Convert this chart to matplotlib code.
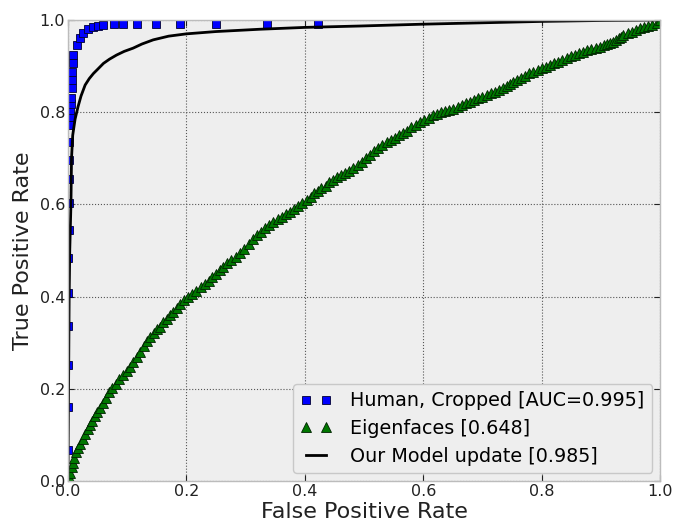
import matplotlib
matplotlib.use("Agg")
import matplotlib.pyplot as plt

# Human, Cropped
human_fpr = [0.000, 0.000, 0.000, 0.000, 0.000, 0.000, 0.001, 0.001, 0.001, 0.002,
             0.002, 0.003, 0.004, 0.004, 0.005, 0.005, 0.006, 0.006, 0.007, 0.008,
             0.009, 0.015, 0.020, 0.026, 0.034, 0.043, 0.050, 0.060, 0.077, 0.093,
             0.116, 0.149, 0.190, 0.250, 0.336, 0.423]
human_tpr = [0.067, 0.161, 0.252, 0.336, 0.407, 0.483, 0.544, 0.602, 0.655, 0.696,
             0.736, 0.772, 0.790, 0.805, 0.818, 0.830, 0.852, 0.870, 0.888, 0.906,
             0.925, 0.945, 0.960, 0.972, 0.980, 0.985, 0.988, 0.990, 0.991, 0.991,
             0.991, 0.991, 0.991, 0.991, 0.991, 0.991]

# Eigenfaces
eigen_fpr = [0.000, 0.002, 0.004, 0.006, 0.009, 0.011, 0.014, 0.017, 0.021, 0.025,
             0.029, 0.033, 0.037, 0.041, 0.045, 0.049, 0.054, 0.060,
             0.065, 0.070, 0.075, 0.081, 0.087, 0.093, 0.099, 0.105, 0.110, 0.116,
             0.122, 0.128, 0.134, 0.139, 0.145, 0.150, 0.155,
             0.161, 0.167, 0.172, 0.178, 0.184, 0.190, 0.196, 0.203, 0.210, 0.217,
             0.224, 0.231, 0.238, 0.244, 0.250, 0.256, 0.262, 0.269, 0.276, 0.284,
             0.291, 0.298, 0.305, 0.312, 0.319, 0.326, 0.333, 0.340, 0.347, 0.354,
             0.361, 0.368, 0.375, 0.382, 0.389, 0.396, 0.403,
             0.410, 0.416, 0.422, 0.428, 0.435, 0.441, 0.448, 0.454, 0.461, 0.468,
             0.475, 0.482, 0.489, 0.496, 0.503, 0.510, 0.517, 0.524, 0.531, 0.538,
             0.545, 0.552, 0.559, 0.566, 0.573, 0.580, 0.588, 0.595, 0.602, 0.609,
             0.616, 0.623, 0.630, 0.637, 0.644, 0.651,
             0.658, 0.665, 0.672, 0.679, 0.686, 0.693, 0.700, 0.707, 0.714, 0.721,
             0.728, 0.735, 0.741, 0.747, 0.752, 0.758, 0.765, 0.772, 0.779, 0.786,
             0.793, 0.800, 0.807, 0.814, 0.821, 0.828, 0.835, 0.842, 0.849, 0.856,
             0.863, 0.870, 0.877, 0.884, 0.891, 0.899, 0.905, 0.910, 0.916, 0.921,
             0.926, 0.930, 0.934, 0.938, 0.945, 0.952, 0.959, 0.966, 0.973, 0.980,
             0.987, 0.994, 1.000]
eigen_tpr = [0.000, 0.008, 0.018, 0.030, 0.040, 0.050, 0.062, 0.071, 0.081, 0.092,
             0.102, 0.112, 0.121, 0.130, 0.140, 0.149, 0.158, 0.169,
             0.180, 0.193, 0.202, 0.211, 0.221, 0.230, 0.239, 0.248, 0.259, 0.270,
             0.280, 0.292, 0.303, 0.313, 0.322, 0.329, 0.335,
             0.344, 0.352, 0.360, 0.367, 0.375, 0.384, 0.392, 0.400, 0.406, 0.413,
             0.420, 0.427, 0.434, 0.442, 0.450, 0.457, 0.465, 0.472, 0.479, 0.487,
             0.494, 0.504, 0.514, 0.524, 0.534, 0.541, 0.548, 0.555, 0.562, 0.568,
             0.573, 0.579, 0.584, 0.590, 0.597, 0.603, 0.609,
             0.616, 0.624, 0.630, 0.635, 0.641, 0.648, 0.654, 0.660, 0.664, 0.669,
             0.673, 0.678, 0.686, 0.693, 0.700, 0.707, 0.715, 0.722, 0.729, 0.736,
             0.740, 0.745, 0.750, 0.754, 0.760, 0.767, 0.773, 0.779, 0.784, 0.788,
             0.793, 0.797, 0.800, 0.803, 0.805, 0.808,
             0.812, 0.816, 0.819, 0.823, 0.826, 0.830, 0.833, 0.837, 0.841, 0.844,
             0.848, 0.852, 0.857, 0.862, 0.866, 0.870, 0.875, 0.879, 0.884, 0.888,
             0.891, 0.895, 0.898, 0.902, 0.906, 0.910, 0.913, 0.917, 0.921, 0.924,
             0.928, 0.931, 0.934, 0.937, 0.939, 0.942, 0.945, 0.948, 0.951, 0.953,
             0.957, 0.961, 0.964, 0.967, 0.971, 0.975, 0.978, 0.982, 0.985, 0.988,
             0.990, 0.993, 1.000]

# Our Model update
model_fpr = [0.000, 0.001, 0.002, 0.003, 0.005, 0.006, 0.008, 0.012, 0.017, 0.022,
             0.029, 0.036, 0.043, 0.050, 0.060, 0.070, 0.082, 0.095, 0.110, 0.125,
             0.144, 0.170, 0.200, 0.250, 0.324, 0.400, 0.493, 0.600, 0.700, 0.800,
             0.900, 1.000]
model_tpr = [0.000, 0.200, 0.400, 0.500, 0.600, 0.700, 0.750, 0.785, 0.812, 0.835,
             0.859, 0.873, 0.884, 0.893, 0.906, 0.915, 0.924, 0.932, 0.939, 0.948,
             0.957, 0.965, 0.970, 0.975, 0.980, 0.984, 0.987, 0.991, 0.994, 0.997,
             0.999, 1.000]

labels = ["Human, Cropped [AUC=0.995]", "Eigenfaces [0.648]", "Our Model update [0.985]"]

fig = plt.figure(figsize=(6.77, 5.27), dpi=100)
ax = fig.add_axes([0.1004, 0.0873, 0.8746, 0.8747])
ax.set_facecolor('#eeeeee')

ax.plot(human_fpr, human_tpr, 's', color='#0000ff', mec='#000033', mew=0.6,
        ms=6, label=labels[0])
ax.plot(eigen_fpr, eigen_tpr, '^', color='#007700', mec='#002200', mew=0.6,
        ms=6.5, label=labels[1])
ax.plot(model_fpr, model_tpr, '-', color='k', lw=2, label=labels[2])

ax.set_xlim(0, 1)
ax.set_ylim(0, 1)
ticks = [0.0, 0.2, 0.4, 0.6, 0.8, 1.0]
ax.set_xticks(ticks)
ax.set_yticks(ticks)
ax.set_xticklabels(["%.1f" % t for t in ticks])
ax.set_yticklabels(["%.1f" % t for t in ticks])
ax.tick_params(direction='in', top=True, right=True, length=4, width=0.8,
               labelsize=11.5, colors='#222222', pad=2)
ax.set_axisbelow(True)
ax.grid(True, linestyle=':', color='#555555', lw=0.8)
for s in ax.spines.values():
    s.set_color('#bcbcbc')
    s.set_linewidth(1)

ax.set_xlabel("False Positive Rate", fontsize=16, color='#222222', labelpad=2)
ax.set_ylabel("True Positive Rate", fontsize=16, color='#222222', labelpad=5)

leg = ax.legend(loc='lower right', fontsize=13.8, numpoints=2, handlelength=1.6,
                handletextpad=1.0, labelspacing=0.45, borderaxespad=0.4,
                fancybox=True, framealpha=1)
leg.get_frame().set_facecolor('#eeeeee')
leg.get_frame().set_edgecolor('#c8c8c8')

fig.savefig("out.png", dpi=100)
